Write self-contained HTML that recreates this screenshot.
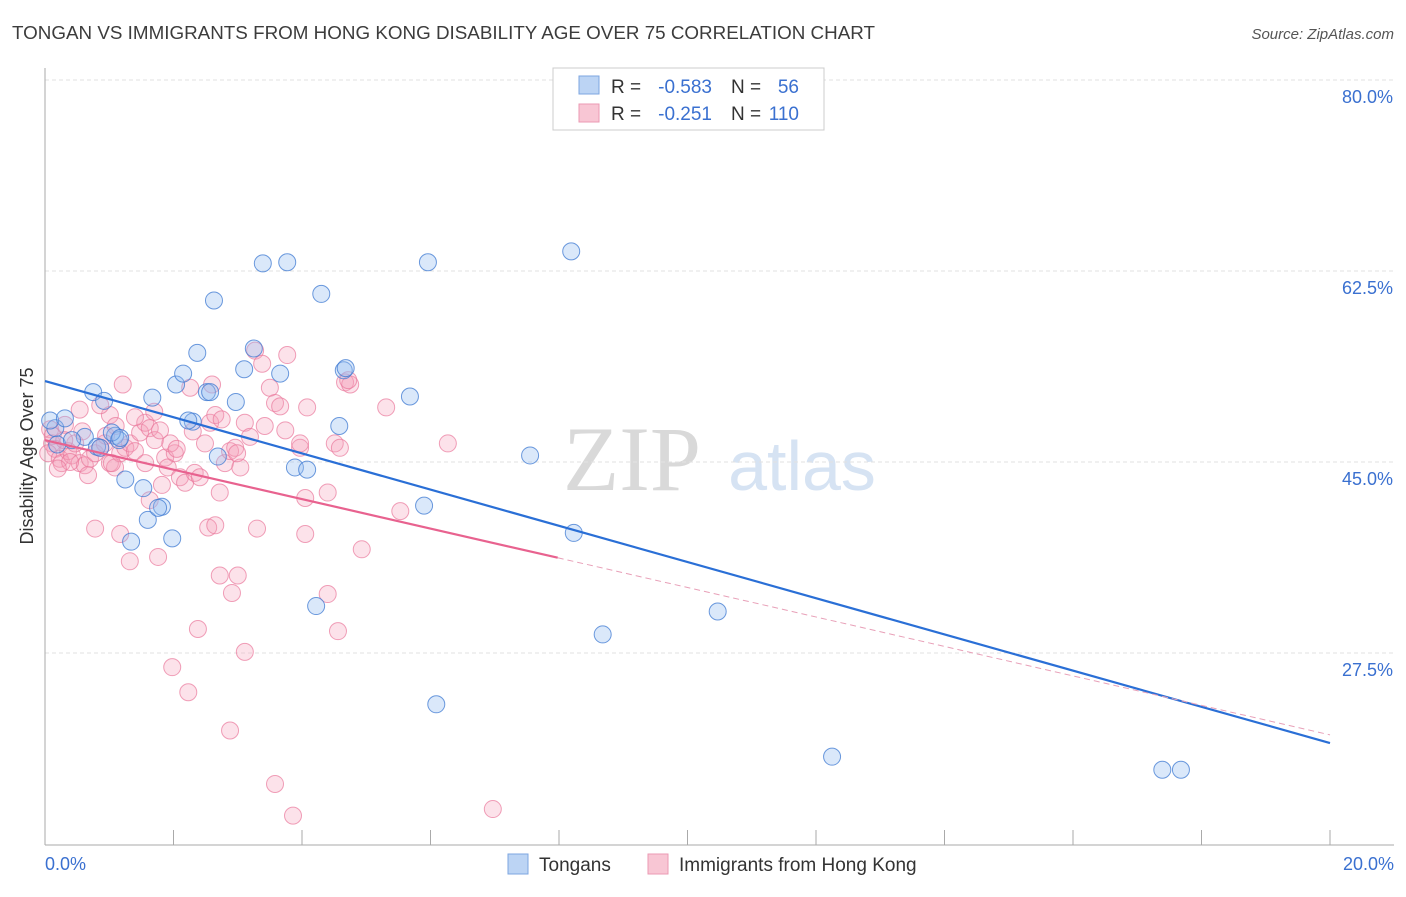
<!DOCTYPE html>
<html><head><meta charset="utf-8"><style>
body{margin:0;background:#fff;font-family:"Liberation Sans",sans-serif}
</style></head><body>
<svg id="c" width="1406" height="892" xmlns="http://www.w3.org/2000/svg" font-family="Liberation Sans, sans-serif">
<text x="12" y="39" font-size="18" fill="#3c3c3c" textLength="863" lengthAdjust="spacingAndGlyphs">TONGAN VS IMMIGRANTS FROM HONG KONG DISABILITY AGE OVER 75 CORRELATION CHART</text>
<text x="1394" y="39" font-size="15" fill="#555" font-style="italic" text-anchor="end">Source: ZipAtlas.com</text>
<g>
<text x="632" y="490" font-size="92" font-family="Liberation Serif, serif" fill="#d9d9d9" text-anchor="middle">ZIP</text>
<text x="802" y="490" font-size="70" fill="#d6e3f3" text-anchor="middle">atlas</text>
</g>
<g id="grid"></g><g id="axes"></g><g id="pts"></g><g id="lines"></g>
<g>
<rect x="553" y="68" width="271" height="62" fill="#fff" stroke="#ccc"/>
<rect x="579" y="76" width="20" height="18" fill="#bcd4f4" stroke="#7da6e0"/>
<rect x="579" y="104" width="20" height="18" fill="#f8c6d4" stroke="#eb9ab3"/>
<text x="611" y="93" font-size="19" fill="#333">R =</text>
<text x="712" y="93" font-size="19" fill="#3a70d0" text-anchor="end">-0.583</text>
<text x="731" y="93" font-size="19" fill="#333">N =</text>
<text x="799" y="93" font-size="19" fill="#3a70d0" text-anchor="end">56</text>
<text x="611" y="120" font-size="19" fill="#333">R =</text>
<text x="712" y="120" font-size="19" fill="#3a70d0" text-anchor="end">-0.251</text>
<text x="731" y="120" font-size="19" fill="#333">N =</text>
<text x="799" y="120" font-size="19" fill="#3a70d0" text-anchor="end">110</text>
</g>
<g>
<rect x="508" y="854" width="20" height="20" fill="#bcd4f4" stroke="#7da6e0"/>
<text x="539" y="871" font-size="19" fill="#333">Tongans</text>
<rect x="648" y="854" width="20" height="20" fill="#f8c6d4" stroke="#eb9ab3"/>
<text x="679" y="871" font-size="19" fill="#333">Immigrants from Hong Kong</text>
</g>
<text transform="translate(33,456) rotate(-90)" font-size="18" fill="#333" text-anchor="middle">Disability Age Over 75</text>
</svg>
<script>
const yTicks=[80,62.5,45,27.5];
const yTickLabels=["80.0%","62.5%","45.0%","27.5%"];
const xTicks=[0,2,4,6,8,10,12,14,16,18,20];
const blue=[[0.75,51.4],[0.92,50.6],[1.67,50.9],[2.04,52.1],[2.15,53.1],[2.37,55.0],[2.63,59.8],[2.52,51.4],[2.57,51.4],[2.97,50.5],[3.10,53.5],[3.25,55.4],[3.39,63.2],[3.77,63.3],[3.66,53.1],[4.30,60.4],[4.65,53.4],[4.68,53.6],[4.58,48.3],[5.68,51.0],[5.96,63.3],[8.19,64.3],[2.30,48.7],[2.69,45.5],[3.89,44.5],[4.08,44.3],[1.25,43.4],[1.53,42.6],[1.60,39.7],[1.82,40.9],[1.76,40.8],[1.34,37.7],[1.98,38.0],[5.90,41.0],[7.55,45.6],[8.23,38.5],[4.22,31.8],[8.68,29.2],[10.47,31.3],[6.09,22.8],[12.25,18.0],[17.39,16.8],[17.68,16.8],[0.62,47.3],[0.81,46.4],[1.09,47.4],[1.15,47.0],[0.16,48.1],[0.08,48.8],[0.31,49.0],[0.86,46.3],[1.04,47.7],[0.19,46.6],[0.42,47.0],[1.17,47.2],[2.23,48.8]];
const pink=[[0.08,48.0],[0.11,46.7],[0.16,46.2],[0.05,45.8],[0.23,45.3],[0.26,44.9],[0.36,46.0],[0.42,45.6],[0.47,46.7],[0.54,44.9],[0.62,44.7],[0.70,45.3],[0.78,45.8],[0.86,46.3],[0.93,46.7],[1.01,44.9],[1.09,44.5],[1.17,45.8],[1.25,46.3],[1.32,46.7],[1.40,46.0],[1.48,47.7],[1.56,48.6],[1.63,48.1],[1.71,47.0],[1.79,47.9],[1.87,45.4],[1.91,44.5],[2.02,45.8],[2.10,43.6],[2.18,43.1],[2.26,51.8],[2.33,44.0],[2.41,43.6],[2.49,46.7],[2.57,48.6],[2.60,52.1],[2.65,49.3],[2.72,42.2],[2.80,44.9],[2.88,46.0],[2.96,46.3],[3.04,44.5],[3.11,48.6],[3.19,47.3],[3.27,55.2],[3.38,54.0],[3.50,51.8],[3.58,50.4],[3.66,50.1],[3.77,54.8],[3.97,46.3],[4.05,41.7],[4.08,50.0],[4.40,42.2],[4.51,46.7],[4.59,46.3],[4.67,52.3],[4.75,52.1],[4.72,52.5],[5.31,50.0],[5.53,40.5],[6.27,46.7],[4.93,37.0],[4.56,29.5],[4.40,32.9],[4.05,38.4],[0.78,38.9],[1.17,38.4],[1.32,35.9],[1.76,36.3],[2.38,29.7],[1.98,26.2],[2.23,23.9],[2.91,33.0],[2.72,34.6],[3.00,34.6],[2.88,20.4],[3.11,27.6],[3.30,38.9],[2.54,39.0],[2.65,39.2],[3.58,15.5],[3.86,12.6],[6.97,13.2],[1.21,52.1],[1.01,49.3],[0.86,50.2],[0.54,49.8],[0.31,48.4],[0.39,45.0],[0.20,44.4],[0.67,43.8],[1.04,44.9],[1.63,41.5],[1.82,42.9],[1.95,46.7],[1.56,44.9],[2.99,45.8],[3.42,48.3],[3.74,47.9],[3.97,46.7],[0.12,47.4],[0.30,47.0],[0.58,47.8],[0.95,47.4],[1.10,48.3],[1.40,49.1],[1.70,49.6],[2.05,46.2],[2.30,47.8],[2.75,48.9]];
const blueTrend=[52.42,19.25];
const pinkTrend=[47.0,20.0];
const pinkSolidEnd=[7.98];
const X=v=>45+v*64.25, Y=v=>80+(80-v)*10.914;
const NS="http://www.w3.org/2000/svg";
function mk(t,a,p){const e=document.createElementNS(NS,t);for(const k in a)e.setAttribute(k,a[k]);p.appendChild(e);return e;}
const grid=document.getElementById('grid'),axes=document.getElementById('axes'),pts=document.getElementById('pts'),lines=document.getElementById('lines');
yTicks.forEach((t,i)=>{
 const g=mk('line',{x1:45,x2:1394,y1:Y(t),y2:Y(t),stroke:'#e2e2e2','stroke-dasharray':'4,3'},grid);
 
 
 const l=mk('text',{x:1393,y:Y(t)+23,'font-size':18,fill:'#3a70d0','text-anchor':'end'},axes);
 l.textContent=yTickLabels[i];
 
 
});
const ax=mk('line',{x1:45,x2:45,y1:68,y2:845,stroke:'#aaa'},axes);


const bx=mk('line',{x1:45,x2:1394,y1:845,y2:845,stroke:'#aaa'},axes);


xTicks.forEach(t=>{
 const k=mk('line',{x1:X(t),x2:X(t),y1:830,y2:845,stroke:'#aaa'},axes);
 
 
});
[[0,"0.0%","start",45],[20,"20.0%","end",1394]].forEach(d=>{
 const l=mk('text',{x:d[3],y:870,'font-size':18,fill:'#3a70d0','text-anchor':d[2]},axes);
 l.textContent=d[1];
 
 
});
pink.forEach(p=>{
 const c=mk('circle',{cx:X(p[0]),cy:Y(p[1]),r:8.5,fill:'rgba(244,160,186,0.3)',stroke:'rgba(234,120,155,0.7)','stroke-width':1},pts);
 
 
});
blue.forEach(p=>{
 const c=mk('circle',{cx:X(p[0]),cy:Y(p[1]),r:8.5,fill:'rgba(150,190,240,0.35)',stroke:'rgba(60,120,210,0.75)','stroke-width':1},pts);
 
 
});
const pf=x=>pinkTrend[0]+(pinkTrend[1]-pinkTrend[0])*x/20;
const l1=mk('line',{x1:X(0),y1:Y(blueTrend[0]),x2:X(20),y2:Y(blueTrend[1]),stroke:'#2a6fd6','stroke-width':2.2},lines);


const l2=mk('line',{x1:X(0),y1:Y(pf(0)),x2:X(pinkSolidEnd[0]),y2:Y(pf(pinkSolidEnd[0])),stroke:'#e8628f','stroke-width':2.2},lines);


const l3=mk('line',{x1:X(pinkSolidEnd[0]),y1:Y(pf(pinkSolidEnd[0])),x2:X(20),y2:Y(pf(20)),stroke:'#e8a0b8','stroke-width':1,'stroke-dasharray':'6,4'},lines);


</script>
</body></html>
